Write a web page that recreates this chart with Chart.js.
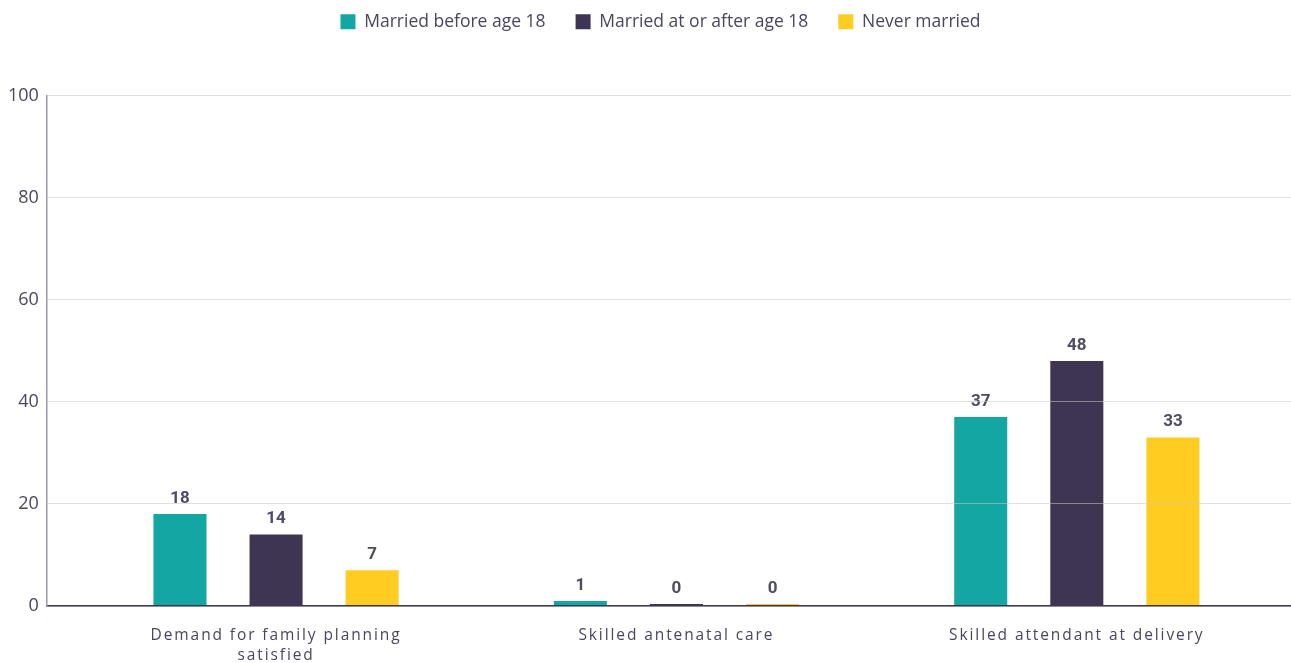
<!DOCTYPE html>
<html>
<head>
<meta charset="utf-8">
<script src="https://cdn.jsdelivr.net/npm/chart.js@4"></script>
<style>
  html, body { margin: 0; padding: 0; background: #ffffff; }
  #wrap { width: 1291px; height: 663px; }
</style>
</head>
<body>
<div id="wrap"><canvas id="chart"></canvas></div>
<script>
const categories = [
  ['Demand for family planning', 'satisfied'],
  'Skilled antenatal care',
  'Skilled attendant at delivery'
];
const marriedBefore18 = [18, 1, 37];
const marriedAfter18 = [14, 0, 48];
const neverMarried = [7, 0, 33];
const yTicks = [0, 20, 40, 60, 80, 100];

const textColor = '#4a4660';

// push the legend up and the plot down
const legendSpacer = {
  id: 'legendSpacer',
  beforeInit(chart) {
    const fit = chart.legend.fit;
    chart.legend.fit = function () {
      fit.bind(chart.legend)();
      this.height += 55;
    };
  }
};

// the category band sits a bit inside the drawn axis lines,
// and the legend is centred slightly right of the page centre
const bandInset = {
  id: 'bandInset',
  afterLayout(chart) {
    const x = chart.scales.x;
    x._startPixel = x.left + 29;
    x._endPixel = x.right - 14;
    x._length = x._endPixel - x._startPixel;
    chart.legend.left += 15;
    chart.legend.right += 15;
  }
};

// wider letter spacing on the category labels
const spacedLabels = {
  id: 'spacedLabels',
  beforeDraw(chart) {
    const x = chart.scales.x;
    if (x._spaced) return;
    const draw = x.drawLabels;
    x.drawLabels = function (area) {
      const c = this.ctx;
      const prev = c.letterSpacing;
      c.letterSpacing = '1.9px';
      draw.call(this, area);
      c.letterSpacing = prev;
    };
    x._spaced = true;
  }
};

// value labels above bars
const valueLabels = {
  id: 'valueLabels',
  afterDatasetsDraw(chart) {
    const ctx = chart.ctx;
    ctx.save();
    ctx.font = 'bold 17px Roboto';
    ctx.fillStyle = '#4f4b63';
    ctx.textAlign = 'center';
    ctx.textBaseline = 'bottom';
    chart.data.datasets.forEach((ds, i) => {
      chart.getDatasetMeta(i).data.forEach((bar, j) => {
        ctx.fillText(ds.data[j], bar.x, bar.y - 7);
      });
    });
    ctx.restore();
  }
};

new Chart(document.getElementById('chart'), {
  type: 'bar',
  data: {
    labels: categories,
    datasets: [
      { label: 'Married before age 18', data: marriedBefore18, backgroundColor: '#13a6a3' },
      { label: 'Married at or after age 18', data: marriedAfter18, backgroundColor: '#3d3551' },
      { label: 'Never married', data: neverMarried, backgroundColor: '#ffcd22' }
    ]
  },
  options: {
    responsive: true,
    maintainAspectRatio: false,
    animation: false,
    datasets: {
      bar: { categoryPercentage: 0.72, barPercentage: 0.552, minBarLength: 2 }
    },
    layout: { padding: { left: 0, right: 0, top: -17, bottom: 0 } },
    plugins: {
      legend: {
        position: 'top',
        labels: {
          boxWidth: 15,
          boxHeight: 15,
          padding: 30,
          color: textColor,
          font: { family: 'Open Sans', size: 17.5 }
        }
      },
      tooltip: { enabled: false }
    },
    scales: {
      x: {
        grid: { display: false, drawTicks: false },
        border: { display: true, color: '#3d3551', width: 1.5, z: 2 },
        afterFit(scale) { scale.height = 57; },
        ticks: {
          color: textColor,
          padding: 20,
          font: { family: 'Open Sans', size: 15.5, lineHeight: 1.29 }
        }
      },
      y: {
        min: 0,
        max: 100,
        afterBuildTicks(scale) {
          scale.ticks = yTicks.map(v => ({ value: v }));
        },
        grid: { color: 'rgba(200,200,200,0.55)', drawTicks: false, z: 1 },
        border: { display: true, color: '#9a98a8', width: 1.5, z: 2 },
        ticks: {
          color: textColor,
          padding: 8,
          font: { family: 'Open Sans', size: 18 }
        }
      }
    }
  },
  plugins: [legendSpacer, bandInset, spacedLabels, valueLabels]
});
</script>
</body>
</html>
